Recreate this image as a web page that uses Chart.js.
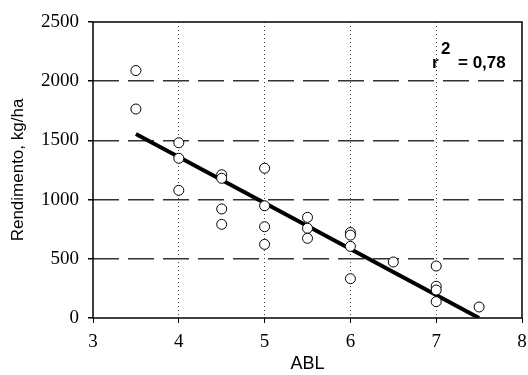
<!DOCTYPE html>
<html lang="pt">
<head>
  <meta charset="UTF-8">
  <title>Rendimento vs ABL</title>
  <script src="https://cdn.jsdelivr.net/npm/chart.js"></script>
  <style>
    html, body { margin: 0; padding: 0; background: #fff; }
    #wrap { width: 528px; height: 375px; position: relative; }
  </style>
</head>
<body>
  <div id="wrap"><canvas id="abl"></canvas></div>
  <script>
    // observed points: ABL score and yield (kg/ha)
    var ablValues = [3.5, 3.5, 4, 4, 4, 4.5, 4.5, 4.5, 4.5, 5, 5, 5, 5, 5.5, 5.5, 5.5, 6, 6, 6, 6, 6.5, 7, 7, 7, 7, 7.5];
    var yieldValues = [2090, 1765, 1480, 1349, 1078, 1210, 1180, 921, 791, 1265, 948, 771, 622, 850, 758, 673, 722, 700, 605, 332, 473, 439, 268, 236, 138, 93];
    // fitted regression line end points
    var fitX = [3.5, 7.5];
    var fitY = [1555, 0];
    var xTicks = [3, 4, 5, 6, 7, 8];
    var yTicks = [0, 500, 1000, 1500, 2000, 2500];
    var r2Label = '0,78';

    var points = ablValues.map(function (x, i) { return { x: x, y: yieldValues[i] }; });
    var fitLine = fitX.map(function (x, i) { return { x: x, y: fitY[i] }; });

    var framePlugin = {
      id: 'frame',
      afterDraw: function (chart) {
        var ctx = chart.ctx, a = chart.chartArea;
        ctx.save();
        ctx.strokeStyle = '#000';
        ctx.lineWidth = 1.5;
        ctx.strokeRect(a.left, a.top, a.right - a.left, a.bottom - a.top);
        // r² annotation
        ctx.fillStyle = '#000';
        ctx.font = 'bold 17px "Liberation Sans", Arial, sans-serif';
        ctx.textBaseline = 'alphabetic';
        ctx.textAlign = 'left';
        ctx.fillText('r', 432, 68);
        ctx.fillText('2', 441, 54);
        ctx.fillText('= ' + r2Label, 458, 68);
        ctx.restore();
      }
    };

    var serif = '"Liberation Serif", "Times New Roman", serif';
    var sans = '"Liberation Sans", Arial, sans-serif';
    var plain = function (v) { return String(v); };

    new Chart(document.getElementById('abl'), {
      type: 'scatter',
      data: {
        datasets: [
          {
            type: 'line',
            data: fitLine,
            borderColor: '#000',
            borderWidth: 4,
            pointRadius: 0,
            fill: false,
            order: 2
          },
          {
            data: points,
            pointRadius: 5,
            pointBackgroundColor: '#fff',
            pointBorderColor: '#000',
            pointBorderWidth: 1,
            order: 1
          }
        ]
      },
      options: {
        responsive: true,
        maintainAspectRatio: false,
        animation: false,
        layout: { padding: { top: 22, right: 6, left: 0, bottom: 0 } },
        plugins: { legend: { display: false }, tooltip: { enabled: false } },
        scales: {
          x: {
            type: 'linear',
            min: xTicks[0],
            max: xTicks[xTicks.length - 1],
            afterBuildTicks: function (s) { s.ticks = xTicks.map(function (v) { return { value: v }; }); },
            afterFit: function (s) { s.height = 57; s.paddingLeft = 0; s.paddingRight = 0; },
            grid: {
              color: function (c) {
                var v = c.tick && c.tick.value;
                return (v === xTicks[0] || v === xTicks[xTicks.length - 1]) ? 'rgba(0,0,0,0)' : '#444';
              },
              lineWidth: 1,
              tickColor: '#000',
              tickLength: 5,
              tickBorderDash: []
            },
            border: { display: false, dash: [1, 3] },
            ticks: { color: '#000', padding: 8, callback: plain, font: { family: serif, size: 19 } },
            title: { display: true, text: 'ABL', color: '#000', padding: { top: 0, bottom: 0 }, font: { family: sans, size: 18 } }
          },
          y: {
            min: yTicks[0],
            max: yTicks[yTicks.length - 1],
            afterBuildTicks: function (s) { s.ticks = yTicks.map(function (v) { return { value: v }; }); },
            afterFit: function (s) { s.width = 93; s.paddingTop = 0; s.paddingBottom = 0; },
            grid: {
              color: function (c) {
                var v = c.tick && c.tick.value;
                return (v === yTicks[0] || v === yTicks[yTicks.length - 1]) ? 'rgba(0,0,0,0)' : '#333';
              },
              lineWidth: 1.5,
              tickColor: '#000',
              tickLength: 5,
              tickBorderDash: []
            },
            border: { display: false, dash: [26, 9] },
            ticks: { color: '#000', padding: 9, callback: plain, font: { family: serif, size: 19 } },
            title: { display: true, text: 'Rendimento, kg/ha', color: '#000', padding: { top: 8, bottom: 4 }, font: { family: sans, size: 17 } }
          }
        }
      },
      plugins: [framePlugin]
    });
  </script>
</body>
</html>
